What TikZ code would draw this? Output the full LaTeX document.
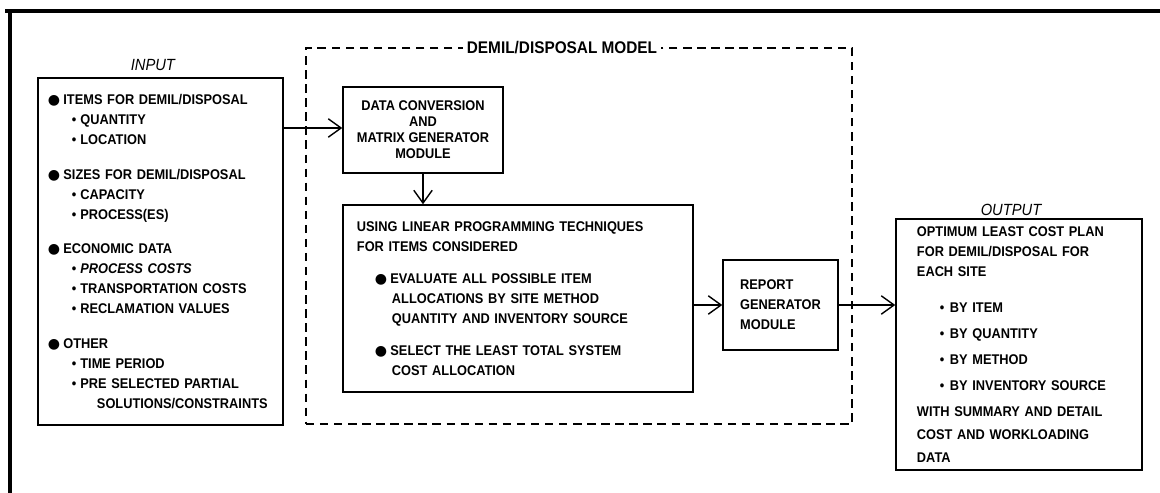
\documentclass[tikz,border=0pt]{standalone}
\usepackage{fontspec}
\setmainfont{Liberation Sans}[FakeStretch=0.91]
\newfontfamily\dotfont{DejaVu Sans}
\usepackage{tikz}
\usetikzlibrary{positioning,calc,arrows.meta}

\newcommand{\bigbul}{\makebox[1.1em][l]{\dotfont ●}}
\newcommand{\subbul}{\makebox[0.6em][l]{•}}

\begin{document}
\begin{tikzpicture}[x=0.025cm, y=-0.025cm,
    box/.style={draw, line width=1pt, inner sep=0pt,
        font=\bfseries\fontsize{10}{14.2}\selectfont},
    flow/.style={-{Straight Barb[length=3.2mm,width=4.6mm]}, line width=1pt},
    caption/.style={inner sep=0pt, font=\itshape\fontsize{11.5}{13}\selectfont}]
    \useasboundingbox (0,0) rectangle (1160,493);

    % Frame
    \draw[line width=2.2pt] (5,11) -- (1160,11);
    \draw[line width=2.2pt] (10,11) -- (10,493);

    % Model boundary
    \node[draw, dash pattern=on 6pt off 4pt, line width=1pt,
          minimum width=13.65cm, minimum height=9.4cm] (model) at (579,236) {};
    \node[fill=white, inner xsep=3pt, inner ysep=1pt,
          font=\bfseries\fontsize{12}{14}\selectfont] (modeltitle) at (562,48) {DEMIL/DISPOSAL MODEL};

    % Input
    \node[box, minimum width=6.125cm, minimum height=8.675cm,
          text width=5.625cm, align=left] (input) at (160.5,251.5) {%
        \bigbul ITEMS FOR DEMIL/DISPOSAL\\
        \hspace*{0.6cm}\subbul QUANTITY\\
        \hspace*{0.6cm}\subbul LOCATION\\[0.375cm]
        \bigbul SIZES FOR DEMIL/DISPOSAL\\
        \hspace*{0.6cm}\subbul CAPACITY\\
        \hspace*{0.6cm}\subbul PROCESS(ES)\\[0.375cm]
        \bigbul ECONOMIC DATA\\
        \hspace*{0.6cm}\subbul \textit{PROCESS COSTS}\\
        \hspace*{0.6cm}\subbul TRANSPORTATION COSTS\\
        \hspace*{0.6cm}\subbul RECLAMATION VALUES\\[0.375cm]
        \bigbul OTHER\\
        \hspace*{0.6cm}\subbul TIME PERIOD\\
        \hspace*{0.6cm}\subbul PRE SELECTED PARTIAL\\
        \hspace*{1.225cm}SOLUTIONS/CONSTRAINTS};
    \node[caption, above=0.15cm of input, xshift=-0.19cm] (inlabel) {INPUT};

    % Model modules
    \node[box, minimum width=4cm, minimum height=2.15cm, align=center,
          font=\bfseries\fontsize{10}{11.4}\selectfont] (convert) at (423,130) {%
        DATA CONVERSION\\AND\\MATRIX GENERATOR\\MODULE};
    \node[box, minimum width=8.75cm, minimum height=4.675cm,
          text width=8.05cm, align=left] (linprog) at (518,298.5) {%
        USING LINEAR PROGRAMMING TECHNIQUES\\
        FOR ITEMS CONSIDERED\\[0.3cm]
        \hspace*{0.45cm}\bigbul EVALUATE ALL POSSIBLE ITEM\\
        \hspace*{0.875cm}ALLOCATIONS BY SITE METHOD\\
        \hspace*{0.875cm}QUANTITY AND INVENTORY SOURCE\\[0.3cm]
        \hspace*{0.45cm}\bigbul SELECT THE LEAST TOTAL SYSTEM\\
        \hspace*{0.875cm}COST ALLOCATION};
    \node[box, minimum width=2.875cm, minimum height=2.25cm, align=left] (report) at (780.5,305) {%
        REPORT\\GENERATOR\\MODULE};

    % Output
    \node[box, minimum width=6.15cm, minimum height=6.275cm,
          text width=5.1cm, align=left] (output) at (1019,344.5) {%
        OPTIMUM LEAST COST PLAN\\
        FOR DEMIL/DISPOSAL FOR\\
        EACH SITE\\[0.4cm]
        \hspace*{0.575cm}\makebox[0.25cm][l]{•}BY ITEM\\[0.15cm]
        \hspace*{0.575cm}\makebox[0.25cm][l]{•}BY QUANTITY\\[0.15cm]
        \hspace*{0.575cm}\makebox[0.25cm][l]{•}BY METHOD\\[0.15cm]
        \hspace*{0.575cm}\makebox[0.25cm][l]{•}BY INVENTORY SOURCE\\[0.15cm]
        WITH SUMMARY AND DETAIL\\[0.075cm]
        COST AND WORKLOADING\\[0.075cm]
        DATA};
    \node[caption, above=0.05cm of output, xshift=-0.2cm] (outlabel) {OUTPUT};

    % Flow arrows
    \draw[flow] (input.east |- 0,128) -- (convert.west |- 0,128);
    \draw[flow] (convert.south) -- (convert.south |- linprog.north);
    \draw[flow] (linprog.east |- report.west) -- (report.west);
    \draw[flow] (report.east) -- (report.east -| output.west);
\end{tikzpicture}
\end{document}
